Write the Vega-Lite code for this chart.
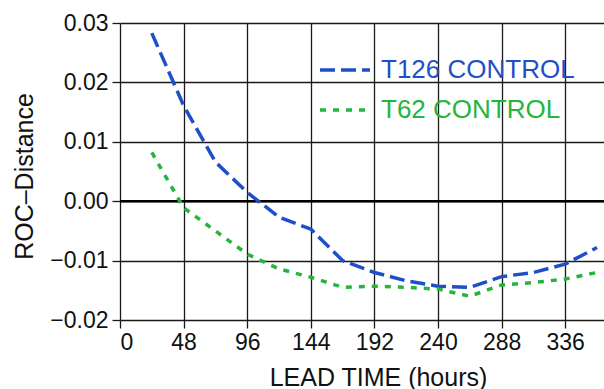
{
  "$schema": "https://vega.github.io/schema/vega-lite/v6.json",
  "width": 484,
  "height": 297,
  "autosize": "none",
  "padding": {"left": 120, "top": 23, "right": 0, "bottom": 69},
  "background": "white",
  "config": {
    "view": {"stroke": null},
    "font": "Liberation Sans",
    "axis": {
      "grid": true,
      "gridColor": "#1a1a1a",
      "gridWidth": 1.3,
      "gridOpacity": 1,
      "domain": false,
      "tickColor": "#1a1a1a",
      "tickWidth": 1.3,
      "tickSize": 8,
      "labelColor": "#111",
      "labelFont": "Liberation Sans",
      "labelFontSize": 23,
      "titleFont": "Liberation Sans",
      "titleFontSize": 25,
      "titleFontWeight": "normal",
      "titleColor": "#111"
    }
  },
  "data": {
    "values": [
      {"hour": 24, "series": "T126 CONTROL", "roc": 0.0283},
      {"hour": 48, "series": "T126 CONTROL", "roc": 0.0161},
      {"hour": 72, "series": "T126 CONTROL", "roc": 0.0066},
      {"hour": 96, "series": "T126 CONTROL", "roc": 0.0015},
      {"hour": 120, "series": "T126 CONTROL", "roc": -0.0027},
      {"hour": 144, "series": "T126 CONTROL", "roc": -0.0047},
      {"hour": 168, "series": "T126 CONTROL", "roc": -0.0100},
      {"hour": 192, "series": "T126 CONTROL", "roc": -0.0120},
      {"hour": 216, "series": "T126 CONTROL", "roc": -0.0134},
      {"hour": 240, "series": "T126 CONTROL", "roc": -0.0143},
      {"hour": 264, "series": "T126 CONTROL", "roc": -0.0145},
      {"hour": 288, "series": "T126 CONTROL", "roc": -0.0127},
      {"hour": 312, "series": "T126 CONTROL", "roc": -0.0120},
      {"hour": 336, "series": "T126 CONTROL", "roc": -0.0106},
      {"hour": 360, "series": "T126 CONTROL", "roc": -0.0078},
      {"hour": 24, "series": "T62 CONTROL", "roc": 0.0082},
      {"hour": 48, "series": "T62 CONTROL", "roc": -0.0011},
      {"hour": 72, "series": "T62 CONTROL", "roc": -0.0050},
      {"hour": 96, "series": "T62 CONTROL", "roc": -0.0089},
      {"hour": 120, "series": "T62 CONTROL", "roc": -0.0114},
      {"hour": 144, "series": "T62 CONTROL", "roc": -0.0128},
      {"hour": 168, "series": "T62 CONTROL", "roc": -0.0145},
      {"hour": 192, "series": "T62 CONTROL", "roc": -0.0143},
      {"hour": 216, "series": "T62 CONTROL", "roc": -0.0145},
      {"hour": 240, "series": "T62 CONTROL", "roc": -0.0148},
      {"hour": 264, "series": "T62 CONTROL", "roc": -0.0160},
      {"hour": 288, "series": "T62 CONTROL", "roc": -0.0141},
      {"hour": 312, "series": "T62 CONTROL", "roc": -0.0137},
      {"hour": 336, "series": "T62 CONTROL", "roc": -0.0131},
      {"hour": 360, "series": "T62 CONTROL", "roc": -0.0120}
    ]
  },
  "layer": [
    {
      "data": {"values": [{"zero": 0}]},
      "mark": {"type": "rule", "color": "#000", "strokeWidth": 2.6},
      "encoding": {
        "y": {"field": "zero", "type": "quantitative", "scale": {"domain": [-0.02, 0.03]}}
      }
    },
    {
      "mark": {"type": "line", "strokeWidth": 3.5, "clip": true},
      "encoding": {
        "x": {
          "field": "hour",
          "type": "quantitative",
          "scale": {"domain": [0, 365.3], "nice": false, "zero": false},
          "axis": {
            "values": [0, 48, 96, 144, 192, 240, 288, 336],
            "title": "LEAD TIME (hours)",
            "labelPadding": 3,
            "titleX": 258,
            "titleY": 65,
            "titleBaseline": "alphabetic"
          }
        },
        "y": {
          "field": "roc",
          "type": "quantitative",
          "scale": {"domain": [-0.02, 0.03], "nice": false},
          "axis": {
            "values": [-0.02, -0.01, 0, 0.01, 0.02, 0.03],
            "format": ".2f",
            "title": "ROC–Distance",
            "labelPadding": 4,
            "titleX": -88,
            "titleY": 153,
            "titleBaseline": "alphabetic"
          }
        },
        "color": {
          "field": "series",
          "type": "nominal",
          "scale": {"domain": ["T126 CONTROL", "T62 CONTROL"], "range": ["#1f4fc8", "#25b53c"]},
          "legend": {
            "title": null,
            "orient": "none",
            "legendX": 198,
            "legendY": 20,
            "symbolType": "stroke",
            "symbolSize": 2500,
            "symbolStrokeWidth": 3.5,
            "labelFontSize": 26,
            "labelFont": "Liberation Sans",
            "labelOffset": 9,
            "rowPadding": -15,
            "labelLimit": 400,
            "encode": {
              "labels": {"update": {"fill": {"scale": "color", "field": "value"}}}
            }
          }
        },
        "strokeDash": {
          "field": "series",
          "type": "nominal",
          "scale": {"domain": ["T126 CONTROL", "T62 CONTROL"], "range": [[15, 6], [6, 7]]}
        }
      }
    }
  ]
}
